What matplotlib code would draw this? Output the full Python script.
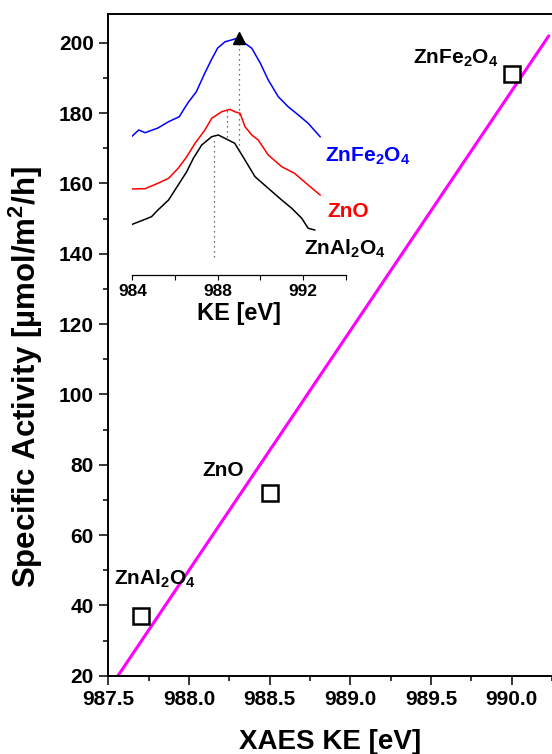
import matplotlib
matplotlib.use("Agg")
import matplotlib.pyplot as plt
from matplotlib.ticker import MultipleLocator

plt.rcParams['font.family'] = ['Liberation Sans', 'DejaVu Sans']
plt.rcParams['font.weight'] = 'bold'
plt.rcParams['mathtext.fontset'] = 'custom'
plt.rcParams['mathtext.rm'] = 'Liberation Sans:bold'
plt.rcParams['mathtext.it'] = 'Liberation Sans:bold'
plt.rcParams['mathtext.bf'] = 'Liberation Sans:bold'

# main data: XAES KE vs specific activity
samples = ['ZnAl$_2$O$_4$', 'ZnO', 'ZnFe$_2$O$_4$']
ke = [987.70, 988.50, 990.00]
activity = [37, 72, 191]
fit_x = [987.56, 990.23]
fit_y = [20, 202]

# inset spectra (arbitrary intensity)
blue_x = [984.0, 984.3, 984.6, 985.2, 985.7, 986.2, 986.6, 987.0, 987.4, 987.7,
          988.0, 988.35, 988.65, 988.9, 989.0, 989.28, 989.6, 990.0, 990.37,
          990.84, 991.3, 991.78, 992.24, 992.8]
blue_y = [139, 145, 142.3, 147, 153.3, 158.3, 172, 183.3, 202, 215,
          227, 233.3, 235, 236.7, 237, 231.7, 226.7, 211.7, 195,
          178.3, 168.3, 160, 151.7, 138.3]
red_x = [984.0, 984.6, 985.2, 985.7, 986.15, 986.55, 986.94, 987.4, 987.72,
         988.19, 988.58, 988.8, 989.05, 989.28, 989.6, 989.9, 990.37, 991.0,
         991.6, 992.24, 992.8]
red_y = [86, 86.3, 91.7, 96.7, 106.7, 118.3, 131.7, 145, 156.7,
         163.3, 165.7, 163.3, 161.7, 148.3, 140, 135, 120, 108.3,
         101.7, 90, 80]
black_x = [984.0, 984.6, 984.9, 985.2, 985.7, 986.15, 986.55, 986.86, 987.25,
           987.72, 988.03, 988.34, 988.8, 989.25, 989.75, 990.37, 991.0,
           991.47, 991.94, 992.24, 992.55]
black_y = [50.7, 55.7, 58.3, 65, 75, 90, 103.3, 116.7, 130,
           138.3, 140, 136.7, 131.7, 116, 98.3, 86.7, 75,
           66.7, 56.7, 46.7, 45]
peak_x = [989.0, 988.42, 987.85]
peak_top = [237, 165, 135]
peak_bot = [125, 138, 18]

fig = plt.figure(figsize=(5.52, 7.54), dpi=100)
ax = fig.add_axes([0.1962, 0.1038, 0.8038, 0.8776])

ax.plot(fit_x, fit_y, color='#ff00ff', lw=2.2, solid_capstyle='round')
ax.plot(ke, activity, ls='none', marker='s', ms=11, mfc='white', mec='black', mew=1.8)

ax.set_xlim(987.5, 990.25)
ax.set_ylim(20, 208.2)
ax.xaxis.set_major_locator(MultipleLocator(0.5))
ax.xaxis.set_minor_locator(MultipleLocator(0.25))
ax.yaxis.set_major_locator(MultipleLocator(20))
ax.yaxis.set_minor_locator(MultipleLocator(10))
ax.xaxis.set_major_formatter(plt.FuncFormatter(lambda v, p: f'{v:.1f}'))
ax.spines['right'].set_visible(False)
for s in ['top', 'left', 'bottom']:
    ax.spines[s].set_linewidth(1.4)
ax.tick_params(which='major', direction='out', length=6.5, width=1.1, labelsize=15, pad=4)
ax.tick_params(which='minor', direction='out', length=3.6, width=1.1)
ax.set_xlabel('XAES KE [eV]', fontsize=20, fontweight='bold', labelpad=14)
ax.set_ylabel('Specific Activity [µmol/m$^2$/h]', fontsize=22.5, fontweight='bold')
ax.yaxis.set_label_coords(-0.143, 0.452)

main_lx = [987.79, 988.21, 989.65]
main_ly = [45.8, 76.8, 194.1]
for name, x, y in zip(samples, main_lx, main_ly):
    ax.text(x, y, name, fontsize=15, ha='center', va='baseline')

# inset
ins = fig.add_axes([0.2397, 0.6353, 0.3866, 0.3249])
ins.patch.set_alpha(0)
for s in ['top', 'left', 'right']:
    ins.spines[s].set_visible(False)
ins.spines['bottom'].set_linewidth(0.9)
ins.plot(blue_x, blue_y, color='blue', lw=1.1)
ins.plot(red_x, red_y, color='red', lw=1.1)
ins.plot(black_x, black_y, color='black', lw=1.1)
for x, t, b in zip(peak_x, peak_top, peak_bot):
    ins.plot([x, x], [b, t], color='#444444', lw=0.9, ls=(0, (1, 3)))
ins.plot([peak_x[0]], [peak_top[0]], marker='^', color='black', ms=8)
ins.set_xlim(984, 994)
ins.set_ylim(0, 245)
ins.set_yticks([])
ins.xaxis.set_major_locator(MultipleLocator(4))
ins.xaxis.set_minor_locator(MultipleLocator(2))
ins.tick_params(which='major', direction='out', length=3.5, width=0.8, labelsize=12.5, pad=3)
ins.tick_params(which='minor', direction='out', length=3.5, width=0.8)
ins.set_xlabel('KE [eV]', fontsize=17, fontweight='bold', labelpad=2)

ins_lx = [993.97, 994.13, 995.02]
ins_ly = [20, 58.3, 113.3]
ins_col = ['black', 'red', 'blue']
for name, x, y, c in zip(samples, ins_lx, ins_ly, ins_col):
    ins.text(x, y, name, fontsize=15, ha='center', va='baseline', color=c, clip_on=False)

fig.savefig('out.png', dpi=100)
